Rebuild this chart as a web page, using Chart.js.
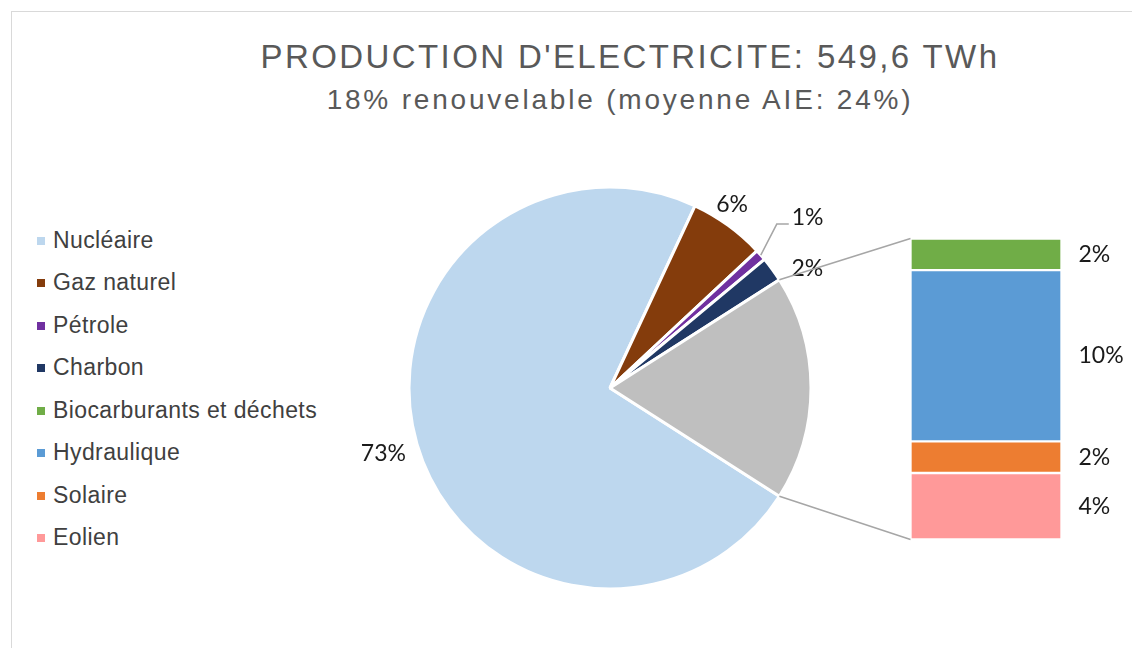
<!DOCTYPE html>
<html><head><meta charset="utf-8">
<script src="https://cdn.jsdelivr.net/npm/chart.js@4.4.1/dist/chart.umd.min.js"></script>
<style>
html,body{margin:0;padding:0;background:#fff;width:1132px;height:648px;overflow:hidden;font-family:"Liberation Sans",Arial,sans-serif;}
#frame{position:absolute;left:11px;top:11px;width:1300px;height:800px;border:1px solid #d9d9d9;}
canvas{position:absolute;left:0;top:0;}
#title{position:absolute;left:0;width:1260px;top:38px;text-align:center;font-size:33px;letter-spacing:2.4px;color:#595959;white-space:nowrap;}
#subtitle{position:absolute;left:0;width:1240px;top:84px;text-align:center;font-size:28px;letter-spacing:2.8px;color:#595959;white-space:nowrap;}
#legend{position:absolute;left:37px;top:219px;}
.li{height:42.5px;display:flex;align-items:center;font-size:23px;letter-spacing:0.4px;color:#404040;}
.sw{width:8px;height:8px;margin-right:8px;margin-top:1px;}
</style>
</head><body>
<div id="frame"></div>
<div id="title">PRODUCTION D'ELECTRICITE: 549,6 TWh</div>
<div id="subtitle">18% renouvelable (moyenne AIE: 24%)</div>
<div id="legend"></div>
<canvas id="pie" width="1132" height="648"></canvas>
<canvas id="bar" width="1132" height="648"></canvas>
<script>
// ---- data ----
const mainCategories = ['Nucléaire', 'Gaz naturel', 'Pétrole', 'Charbon'];
const mainValues = [72.9, 6.1, 0.9, 2.0];
const mainColors = ['#BDD7EE', '#843C0C', '#7030A0', '#203864'];
const renewCategories = ['Biocarburants et déchets', 'Hydraulique', 'Solaire', 'Eolien'];
const renewValues = [1.9, 10.3, 1.9, 4.0];
const renewColors = ['#70AD47', '#5B9BD5', '#ED7D31', '#FF9999'];
const otherLabel = 'Renouvelables';
const otherColor = '#BFBFBF';

const renewTotal = renewValues.reduce((a, b) => a + b, 0);
const grandTotal = mainValues.reduce((a, b) => a + b, 0) + renewTotal;
const pct = v => Math.round(v / grandTotal * 100) + '%';

// legend
const leg = document.getElementById('legend');
mainCategories.concat(renewCategories).forEach((c, i) => {
  const col = mainColors.concat(renewColors)[i];
  const d = document.createElement('div');
  d.className = 'li';
  d.innerHTML = '<span class="sw" style="background:' + col + '"></span><span>' + c + '</span>';
  leg.appendChild(d);
});

const labelFont = '23px Lato, "Open Sans", sans-serif';
const labelColor = '#1a1a1a';

// pie label plugin: radial distance + nudge per slice, leader for thin slice
const pieLabelStyle = [
  {r: 236, dx: 0, dy: 0},
  {r: 218, dx: -6, dy: -7},
  {leader: true},
  {r: 226, dx: 15, dy: 14},
  null
];
const pieLabels = {
  id: 'pieLabels',
  afterDatasetsDraw(chart) {
    const ctx = chart.ctx;
    const meta = chart.getDatasetMeta(0);
    ctx.save();
    ctx.font = labelFont;
    ctx.fillStyle = labelColor;
    ctx.textBaseline = 'middle';
    meta.data.forEach((arc, i) => {
      const st = pieLabelStyle[i];
      if (!st) return;
      const a = (arc.startAngle + arc.endAngle) / 2;
      const R = arc.outerRadius;
      const text = pct(chart.data.datasets[0].data[i]);
      if (st.leader) {
        const x0 = arc.x + Math.cos(a) * R, y0 = arc.y + Math.sin(a) * R;
        const x1 = x0 + 16, y1 = y0 - 31;
        ctx.strokeStyle = '#A6A6A6';
        ctx.lineWidth = 1.5;
        ctx.beginPath();
        ctx.moveTo(x0, y0); ctx.lineTo(x1, y1); ctx.lineTo(x1 + 12, y1);
        ctx.stroke();
        ctx.textAlign = 'left';
        ctx.fillText(text, x1 + 15, y1 - 6);
      } else {
        ctx.textAlign = 'center';
        ctx.fillText(text, arc.x + Math.cos(a) * st.r + st.dx, arc.y + Math.sin(a) * st.r + st.dy);
      }
    });
    ctx.restore();
  }
};

const pieChart = new Chart(document.getElementById('pie'), {
  type: 'pie',
  data: {
    labels: mainCategories.concat([otherLabel]),
    datasets: [{
      data: mainValues.concat([renewTotal]),
      backgroundColor: mainColors.concat([otherColor]),
      borderColor: '#ffffff',
      borderWidth: 3,
      radius: 201
    }]
  },
  options: {
    responsive: false,
    animation: false,
    rotation: 90 + renewTotal / grandTotal * 180,
    layout: {padding: {left: 188, right: 100, top: 148, bottom: 20}},
    plugins: {legend: {display: false}, tooltip: {enabled: false}}
  },
  plugins: [pieLabels]
});

// bar of pie
const barDecor = {
  id: 'barDecor',
  afterDatasetsDraw(chart) {
    const ctx = chart.ctx;
    ctx.save();
    // connectors
    const arc = pieChart.getDatasetMeta(0).data[mainValues.length];
    const R = arc.outerRadius;
    const n = chart.data.datasets.length;
    const topEl = chart.getDatasetMeta(n - 1).data[0];
    const botEl = chart.getDatasetMeta(0).data[0];
    const left = topEl.x - topEl.width / 2;
    ctx.strokeStyle = '#A6A6A6';
    ctx.lineWidth = 1.5;
    ctx.beginPath();
    ctx.moveTo(arc.x + Math.cos(arc.startAngle) * R, arc.y + Math.sin(arc.startAngle) * R);
    ctx.lineTo(left, topEl.y);
    ctx.moveTo(arc.x + Math.cos(arc.endAngle) * R, arc.y + Math.sin(arc.endAngle) * R);
    ctx.lineTo(left, botEl.base);
    ctx.stroke();
    // labels
    ctx.font = labelFont;
    ctx.fillStyle = labelColor;
    ctx.textAlign = 'left';
    ctx.textBaseline = 'middle';
    chart.data.datasets.forEach((ds, i) => {
      const el = chart.getDatasetMeta(i).data[0];
      ctx.fillText(pct(ds.data[0]), el.x + el.width / 2 + 17, (el.y + el.base) / 2);
    });
    ctx.restore();
  }
};

const barDatasets = renewCategories.map((c, i) => ({
  label: c,
  data: [renewValues[i]],
  backgroundColor: renewColors[i],
  borderColor: '#ffffff',
  borderWidth: 1.5,
  borderSkipped: false,
  barPercentage: 1,
  categoryPercentage: 1
})).reverse();

new Chart(document.getElementById('bar'), {
  type: 'bar',
  data: {labels: [otherLabel], datasets: barDatasets},
  options: {
    responsive: false,
    animation: false,
    layout: {padding: {left: 910.5, right: 70.5, top: 238.5, bottom: 108.5}},
    scales: {
      x: {display: false, stacked: true},
      y: {display: false, stacked: true, min: 0, max: renewTotal}
    },
    plugins: {legend: {display: false}, tooltip: {enabled: false}}
  },
  plugins: [barDecor]
});
</script>
</body></html>
